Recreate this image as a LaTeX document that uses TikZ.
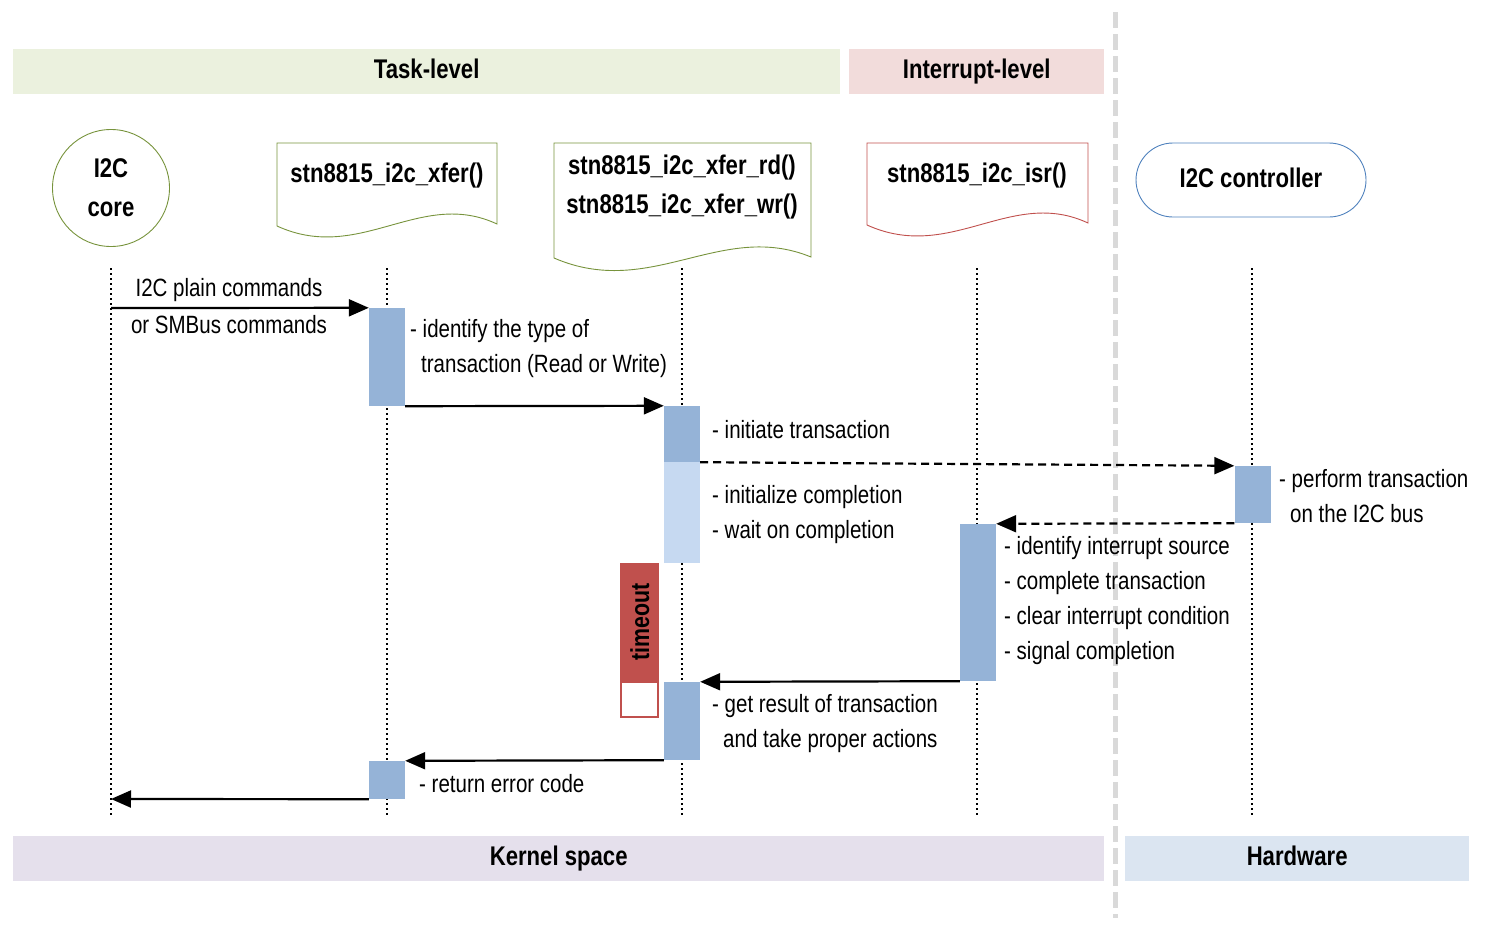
\documentclass[tikz,border=0pt]{standalone}
\usepackage{fontspec}
\setmainfont{Liberation Sans}[FakeStretch=0.82]
\usepackage{xcolor}
\usepackage{tikz}
\definecolor{tasklvl}{RGB}{235,241,222}
\definecolor{irqlvl}{RGB}{242,220,219}
\definecolor{kernsp}{RGB}{229,224,236}
\definecolor{hwsp}{RGB}{219,229,241}
\definecolor{olive}{RGB}{119,147,60}
\definecolor{brick}{RGB}{192,80,77}
\definecolor{steel}{RGB}{79,129,189}
\definecolor{actblue}{RGB}{149,179,215}
\definecolor{actpale}{RGB}{198,217,241}
\usetikzlibrary{arrows.meta,calc}

\begin{document}
\begin{tikzpicture}[x=1pt, y=-1pt,
    every node/.style={font=\fontsize{25}{35}\selectfont, inner sep=0pt},
    band/.style={anchor=north west, minimum height=45pt},
    bandtext/.style={font=\fontsize{27}{30}\selectfont\bfseries, text height=14pt, text depth=0pt},
    title/.style={font=\fontsize{27}{39}\selectfont\bfseries, align=center},
    act/.style={fill=actblue, minimum width=36pt},
    msg/.style={line width=2.2pt, -{Triangle[length=20pt,width=17pt]}},
    reply/.style={msg, dash pattern=on 8pt off 5pt},
    life/.style={line width=1.8pt, dash pattern=on 2pt off 3pt},
    note/.style={anchor=west, align=left}]
    \useasboundingbox (0,0) rectangle (1489,930);

    % Levels and spaces
    \node[band, fill=tasklvl, minimum width=827pt] (task) at (13,49) {};
    \node[bandtext] at (task.center) {Task-level};
    \node[band, fill=irqlvl, minimum width=255pt] (irq) at (849,49) {};
    \node[bandtext] at (irq.center) {Interrupt-level};
    \node[band, fill=kernsp, minimum width=1091pt] (kern) at (13,836) {};
    \node[bandtext] at (kern.center) {Kernel space};
    \node[band, fill=hwsp, minimum width=344pt] (hw) at (1125,836) {};
    \node[bandtext] at (hw.center) {Hardware};

    % Software / hardware border
    \draw[black!15, line width=5pt, dash pattern=on 16pt off 6pt] (1115,12) -- (1115,918);

    % Participants
    \node[circle, draw=olive, line width=0.9pt, minimum size=117pt, title] (core) at (111,188) {I2C\\core};
    \draw[olive, line width=0.9pt] (277,143) -- (497,143) -- (497,224) .. controls (420,188) and (360,264) .. (277,226) -- cycle;
    \node[title] (xfer) at (387,176) {stn8815\_i2c\_xfer()};
    \draw[olive, line width=0.9pt] (554,143) -- (811,143) -- (811,257) .. controls (721,220) and (651,300) .. (554,258) -- cycle;
    \node[title] (xferrw) at (682,187.5) {stn8815\_i2c\_xfer\_rd()\\stn8815\_i2c\_xfer\_wr()};
    \draw[brick, line width=0.9pt] (867,143) -- (1088,143) -- (1088,223) .. controls (1011,187) and (951,263) .. (867,225) -- cycle;
    \node[title] (isr) at (977,176) {stn8815\_i2c\_isr()};
    \node[draw=steel, line width=0.9pt, rounded corners=37pt, minimum width=230pt, minimum height=74pt, title] (ctrl) at (1251,180) {};
    \node[title] at ([yshift=2pt]ctrl.center) {I2C controller};

    % Lifelines
    \foreach \x in {111,387,682,977,1252}
        \draw[life] (\x,268) -- (\x,815);

    % Activations
    \node[act, minimum height=98pt] (a1) at (387,357) {};
    \node[act, minimum height=56pt] (a2) at (682,434) {};
    \node[act, fill=actpale, minimum height=101pt] (a2w) at (682,512.5) {};
    \node[act, minimum height=57pt] (a3) at (1252.5,494.5) {};
    \node[act, minimum height=157pt] (a4) at (978,602.5) {};
    \node[act, minimum height=78pt] (a5) at (682,721) {};
    \node[act, minimum height=38pt] (a6) at (387,780) {};

    % Timeout
    \node[fill=brick, minimum width=39pt, minimum height=118pt, anchor=north west] (tmo) at (620,563) {};
    \node[rotate=90, font=\fontsize{26}{30}\selectfont\bfseries] at (tmo.center) {timeout};
    \node[draw=brick, line width=1.5pt, fill=white, minimum width=37pt, minimum height=35pt, anchor=north] (tmoend) at (tmo.south) {};

    % Messages
    \coordinate (c1) at (111,308);
    \coordinate (c2) at (111,799);
    \draw[msg] (c1) -- (a1.north west);
    \node at (229,290) {I2C plain commands};
    \node at (229,325) {or SMBus commands};
    \draw[msg] (a1.south east) -- (a2.north west);
    \draw[reply] (a2.south east) -- (a3.north west);
    \draw[reply] (a3.south west) -- (a4.north east);
    \draw[msg] (a4.south west) -- (a5.north east);
    \draw[msg] (a5.south west) -- (a6.north east);
    \draw[msg] (a6.south west) -- (c2);

    % Notes
    \node[note] at (410,349) {- identify the type of\\\hspace{11pt}transaction (Read or Write)};
    \node[note] at (712,430) {- initiate transaction};
    \node[note] at (712,514.5) {- initialize completion\\- wait on completion};
    \node[note] at (1279,496.5) {- perform transaction\\\hspace{11pt}on the I2C bus};
    \node[note] at (1004,600.5) {- identify interrupt source\\- complete transaction\\- clear interrupt condition\\- signal completion};
    \node[note] at (712,723.5) {- get result of transaction\\\hspace{11pt}and take proper actions};
    \node[note] at (419,784) {- return error code};
\end{tikzpicture}
\end{document}
